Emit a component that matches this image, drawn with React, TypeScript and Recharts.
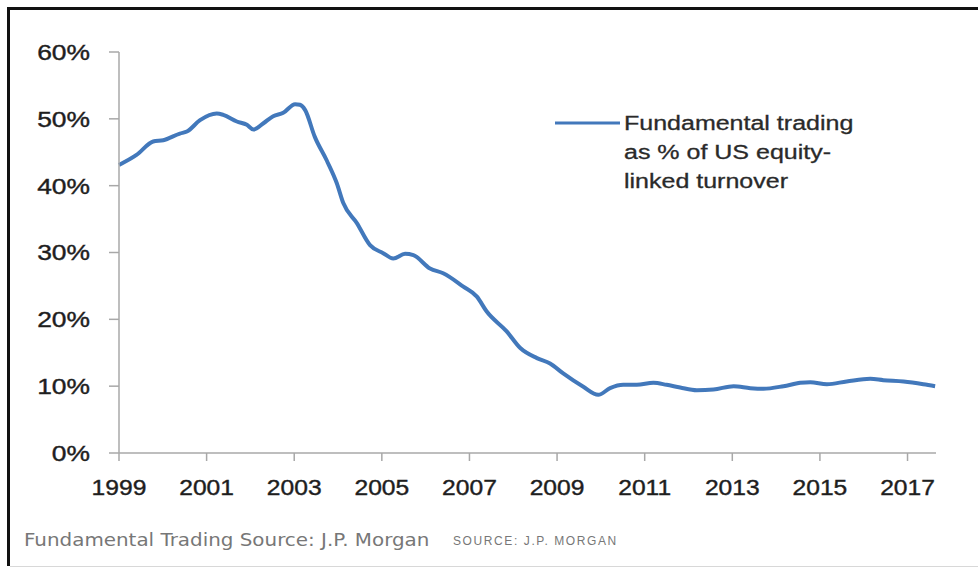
import { LineChart, Line, XAxis, YAxis, Legend } from 'recharts'

const years = [
  1999.0, 1999.4, 1999.78, 2000.01, 2000.39, 2000.55, 2000.85, 2001.23, 2001.38, 2001.69,
  2001.92, 2002.07, 2002.29, 2002.52, 2002.75, 2003.02, 2003.13, 2003.25, 2003.47, 2003.74,
  2003.97, 2004.12, 2004.43, 2004.73, 2005.03, 2005.26, 2005.53, 2005.72, 2006.1, 2006.4,
  2006.86, 2007.17, 2007.39, 2007.85, 2008.16, 2008.54, 2008.84, 2009.14, 2009.6, 2009.94,
  2010.21, 2010.51, 2010.82, 2011.2, 2011.5, 2011.81, 2012.19, 2012.57, 2013.03, 2013.41,
  2013.71, 2014.17, 2014.55, 2014.78, 2015.16, 2015.61, 2016.15, 2016.45, 2016.91, 2017.36,
  2017.63,
]

const fundamentalShare = [
  43.1, 44.6, 46.6, 46.8, 47.8, 48.1, 49.8, 50.8, 50.6, 49.6,
  49.1, 48.4, 49.3, 50.4, 50.9, 52.2, 52.1, 51.3, 47.3, 43.8,
  40.4, 37.4, 34.4, 31.1, 29.9, 29.1, 29.8, 29.6, 27.6, 26.9,
  24.9, 23.4, 21.2, 18.2, 15.7, 14.2, 13.4, 11.9, 9.9, 8.7,
  9.7, 10.2, 10.2, 10.5, 10.2, 9.8, 9.4, 9.5, 10.0, 9.7,
  9.6, 10.0, 10.5, 10.6, 10.3, 10.7, 11.1, 10.9, 10.7, 10.3,
  10.0,
]

const xTicks = [1999, 2001, 2003, 2005, 2007, 2009, 2011, 2013, 2015, 2017]
const yTicks = [0, 10, 20, 30, 40, 50, 60]

const legendLines = ['Fundamental trading', 'as % of US equity-', 'linked turnover']

const data = years.map((year, i) => ({ year, share: fundamentalShare[i] }))

const BLUE = '#4278bb'
const AXIS = '#a8a8a8'
const FONT = '"Liberation Sans", Arial, sans-serif'

function XTick({ x, y, payload }: any) {
  return (
    <g transform={`translate(${x},${y})`}>
      <text x={0} y={0} dy="0.71em" textAnchor="middle" transform="scale(1.12,1)" fontSize={22} fontFamily={FONT} fill="#1e1e1e" stroke="#1e1e1e" strokeWidth={0.4}>
        {payload.value}
      </text>
    </g>
  )
}

function YTick({ x, y, payload }: any) {
  return (
    <g transform={`translate(${x},${y})`}>
      <text x={0} y={0} dy="0.36em" textAnchor="end" transform="scale(1.2,1)" fontSize={22} fontFamily={FONT} fill="#1e1e1e" stroke="#1e1e1e" strokeWidth={0.4}>
        {`${payload.value}%`}
      </text>
    </g>
  )
}

function LegendBox() {
  return (
    <div style={{ display: 'flex', alignItems: 'flex-start' }}>
      <svg width={69} height={29} style={{ display: 'block' }}>
        <line x1={0} x2={65} y1={14} y2={14} stroke={BLUE} strokeWidth={3} />
      </svg>
      <div style={{ transform: 'scaleX(1.25)', transformOrigin: 'left top', fontFamily: FONT, fontSize: 20, lineHeight: '29px', color: '#2a2a2a', whiteSpace: 'nowrap', WebkitTextStroke: '0.3px #2a2a2a' }}>
        {legendLines.map((l) => (
          <div key={l}>{l}</div>
        ))}
      </div>
    </div>
  )
}

export default function App() {
  return (
    <div style={{ position: 'absolute', left: 0, top: 0, width: 978, height: 569, background: '#fff', overflow: 'hidden' }}>
      <div style={{ position: 'absolute', left: 7, top: 7, width: 980, height: 559, borderTop: '3px solid #111', borderLeft: '3px solid #111', boxSizing: 'border-box' }} />
      <div style={{ position: 'absolute', left: 10, top: 566, width: 980, height: 1, background: '#d8d8d8' }} />
      <div style={{ position: 'absolute', left: 0, top: 0 }}>
        <LineChart width={978} height={569} data={data} margin={{ top: 52, right: 42, bottom: 76, left: 59 }}>
          <XAxis
            dataKey="year"
            type="number"
            domain={[1999, 2017.65]}
            ticks={xTicks}
            interval={0}
            height={40}
            tickSize={8}
            tickMargin={18}
            tick={<XTick />}
            axisLine={{ stroke: AXIS, strokeWidth: 1.5 }}
            tickLine={{ stroke: AXIS, strokeWidth: 1.5 }}
          />
          <YAxis
            type="number"
            domain={[0, 60]}
            ticks={yTicks}
            interval={0}
            width={60}
            tickSize={10}
            tickMargin={19}
            tick={<YTick />}
            axisLine={{ stroke: AXIS, strokeWidth: 1.5 }}
            tickLine={{ stroke: AXIS, strokeWidth: 1.5 }}
          />
          <Legend
            layout="vertical"
            align="center"
            verticalAlign="middle"
            content={<LegendBox />}
            wrapperStyle={{ left: 555, top: 109, width: 320 }}
          />
          <Line
            type="monotone"
            dataKey="share"
            name="Fundamental trading as % of US equity-linked turnover"
            stroke={BLUE}
            strokeWidth={4}
            dot={false}
            isAnimationActive={false}
          />
        </LineChart>
      </div>
      <div style={{ position: 'absolute', left: 24, top: 530, fontFamily: '"DejaVu Sans", sans-serif', fontSize: 17, color: '#777', whiteSpace: 'nowrap', lineHeight: '20px', transform: 'scaleX(1.17)', transformOrigin: 'left top' }}>
        Fundamental Trading Source: J.P. Morgan
      </div>
      <div style={{ position: 'absolute', left: 453, top: 534, fontFamily: FONT, fontSize: 12, letterSpacing: 1.6, color: '#777', whiteSpace: 'nowrap', lineHeight: '14px' }}>
        SOURCE: J.P. MORGAN
      </div>
    </div>
  )
}
